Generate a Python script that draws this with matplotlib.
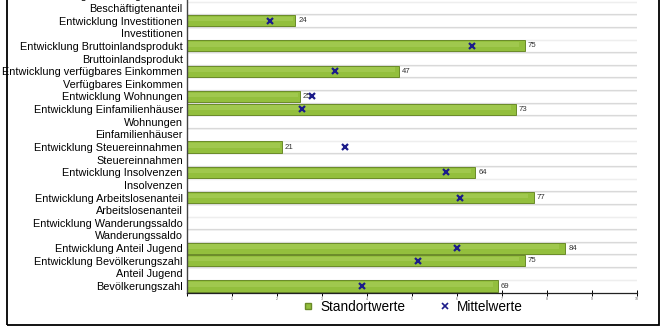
import numpy as np
import matplotlib
matplotlib.use("Agg")
import matplotlib.pyplot as plt
from matplotlib.patches import Rectangle
from matplotlib.lines import Line2D

plt.rcParams['font.family'] = ['Liberation Sans', 'DejaVu Sans']

# categories from bottom to top
categories = [
    "Bevölkerungszahl",
    "Anteil Jugend",
    "Entwicklung Bevölkerungszahl",
    "Entwicklung Anteil Jugend",
    "Wanderungssaldo",
    "Entwicklung Wanderungssaldo",
    "Arbeitslosenanteil",
    "Entwicklung Arbeitslosenanteil",
    "Insolvenzen",
    "Entwicklung Insolvenzen",
    "Steuereinnahmen",
    "Entwicklung Steuereinnahmen",
    "Einfamilienhäuser",
    "Wohnungen",
    "Entwicklung Einfamilienhäuser",
    "Entwicklung Wohnungen",
    "Verfügbares Einkommen",
    "Entwicklung verfügbares Einkommen",
    "Bruttoinlandsprodukt",
    "Entwicklung Bruttoinlandsprodukt",
    "Investitionen",
    "Entwicklung Investitionen",
    "Beschäftigtenanteil",
    "Entwicklung Beschäftigtenanteil",
]
nan = np.nan
standortwerte = [69, nan, 75, 84, nan, nan, nan, 77, nan, 64, nan, 21,
                 nan, nan, 73, 25, nan, 47, nan, 75, nan, 24, nan, nan]
mittelwerte = [38.8, nan, 51.3, 59.9, nan, nan, nan, 60.7, nan, 57.6, nan, 35.0,
               nan, nan, 25.5, 27.7, nan, 32.9, nan, 63.3, nan, 18.4, nan, nan]
x_ticks = [0, 10, 20, 30, 40, 50, 60, 70, 80, 90, 100]
x_ticklabels = ["", "1", "2", "3", "4", "5", "6", "7", "8", "9", "10"]

W, H = 668, 335
fig = plt.figure(figsize=(W / 100, H / 100), dpi=100)

# axes runs past the top edge (reference image is cropped)
pitch = 12.64
ylo, yhi = -0.55, 23.5
ax_h = (yhi - ylo) * pitch / H
ax = fig.add_axes([187 / W, 42 / H, 450 / W, ax_h])

y = np.arange(len(categories))
vals = np.array(standortwerte, dtype=float)
means = np.array(mittelwerte, dtype=float)

# row separators
for b in np.arange(len(categories)) + 0.5:
    ax.axhline(b, color='#d9d9d9', lw=0.9, zorder=0)
    ax.axhline(b - 0.06, color='#efefef', lw=0.7, zorder=0)

has = ~np.isnan(vals)
ax.barh(y[has], vals[has], height=0.88, color='#93bf3d',
        edgecolor='#6a8a28', linewidth=0.7, zorder=2)
# light highlight strip on the bars
ax.barh(y[has] + 0.12, vals[has] * 0.985, height=0.35, left=0,
        color='#a9cf5a', linewidth=0, zorder=2.5, alpha=0.6)

for yi, v in zip(y[has], vals[has]):
    ax.text(v + 0.8, yi, f"{int(v)}", fontsize=5.6, va='center', ha='left',
            color='#333333', zorder=3)

hm = ~np.isnan(means)
ax.plot(means[hm], y[hm], linestyle='none', marker='x', color='#1c1c8a',
        markersize=4.2, markeredgewidth=1.6, zorder=4)

ax.set_xlim(0, 100)
ax.set_ylim(ylo, yhi)
ax.set_yticks(y)
ax.set_yticklabels(categories, fontsize=7.8)
ax.tick_params(axis='y', length=0, pad=3)
ax.set_xticks(x_ticks)
ax.set_xticklabels(x_ticklabels, fontsize=2.5, color='#666666')
ax.tick_params(axis='x', direction='inout', length=4, width=0.7, pad=1)
for s in ['top', 'right']:
    ax.spines[s].set_visible(False)
ax.spines['left'].set_color('#444444')
ax.spines['left'].set_linewidth(1.0)
ax.spines['bottom'].set_color('#222222')
ax.spines['bottom'].set_linewidth(0.9)

# outer frame
fig.patches.append(Rectangle((7 / W, 10 / H), 652 / W, 1.2, transform=fig.transFigure,
                             fill=False, edgecolor='black', linewidth=1.3))

handles = [
    Line2D([], [], linestyle='none', marker='s', markersize=4,
           markerfacecolor='#93bf3d', markeredgecolor='#6a8a28'),
    Line2D([], [], linestyle='none', marker='x', markersize=4,
           color='#1c1c8a', markeredgewidth=1.2),
]
fig.legend(handles, ["Standortwerte", "Mittelwerte"], loc='center',
           bbox_to_anchor=(412 / W, 1 - 307 / H), ncol=2, frameon=False,
           fontsize=9.8, handletextpad=0.4, columnspacing=2.4, handlelength=1.0)

fig.savefig("out.png", dpi=100)
